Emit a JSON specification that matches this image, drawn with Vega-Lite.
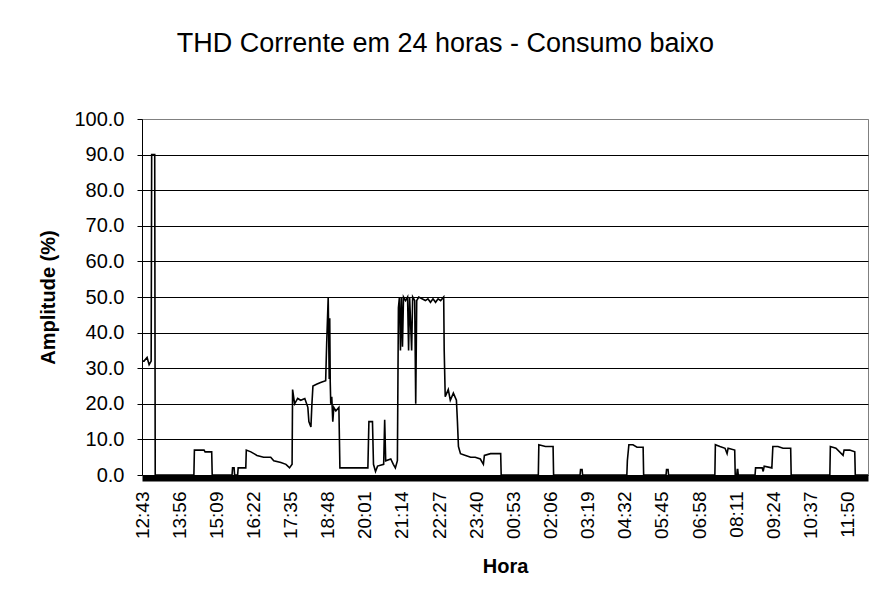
{
  "$schema": "https://vega.github.io/schema/vega-lite/v6.json",
  "width": 726,
  "height": 356,
  "autosize": {"type": "none"},
  "padding": {"left": 142, "top": 119, "right": 8, "bottom": 130},
  "background": "white",
  "config": {
    "font": "Liberation Sans",
    "view": {"stroke": "#808080", "strokeWidth": 1}
  },
  "title": {
    "text": "THD Corrente em 24 horas - Consumo baixo",
    "font": "Liberation Sans",
    "fontSize": 27,
    "fontWeight": "normal",
    "color": "#000",
    "anchor": "middle",
    "frame": "bounds",
    "dx": -8,
    "offset": 51
  },
  "data": {
    "values": [
      {"t": "2009-01-01T12:43:00", "v": 32},
      {"t": "2009-01-01T12:47:00", "v": 32},
      {"t": "2009-01-01T12:53:00", "v": 33},
      {"t": "2009-01-01T12:57:00", "v": 31},
      {"t": "2009-01-01T13:01:00", "v": 32},
      {"t": "2009-01-01T13:02:00", "v": 90},
      {"t": "2009-01-01T13:08:00", "v": 90},
      {"t": "2009-01-01T13:09:00", "v": 0},
      {"t": "2009-01-01T14:25:00", "v": 0},
      {"t": "2009-01-01T14:26:00", "v": 7},
      {"t": "2009-01-01T14:45:00", "v": 7},
      {"t": "2009-01-01T14:47:00", "v": 6.5},
      {"t": "2009-01-01T15:00:00", "v": 6.5},
      {"t": "2009-01-01T15:01:00", "v": 0},
      {"t": "2009-01-01T15:40:00", "v": 0},
      {"t": "2009-01-01T15:41:00", "v": 2},
      {"t": "2009-01-01T15:44:00", "v": 2},
      {"t": "2009-01-01T15:45:00", "v": 0},
      {"t": "2009-01-01T15:51:00", "v": 0},
      {"t": "2009-01-01T15:52:00", "v": 2},
      {"t": "2009-01-01T16:07:00", "v": 2},
      {"t": "2009-01-01T16:08:00", "v": 7},
      {"t": "2009-01-01T16:17:00", "v": 6.5},
      {"t": "2009-01-01T16:23:00", "v": 6},
      {"t": "2009-01-01T16:29:00", "v": 5.5},
      {"t": "2009-01-01T16:42:00", "v": 5},
      {"t": "2009-01-01T16:56:00", "v": 5},
      {"t": "2009-01-01T17:02:00", "v": 4},
      {"t": "2009-01-01T17:16:00", "v": 3.5},
      {"t": "2009-01-01T17:26:00", "v": 3},
      {"t": "2009-01-01T17:33:00", "v": 2},
      {"t": "2009-01-01T17:38:00", "v": 3},
      {"t": "2009-01-01T17:39:00", "v": 24},
      {"t": "2009-01-01T17:43:00", "v": 20},
      {"t": "2009-01-01T17:49:00", "v": 21.5},
      {"t": "2009-01-01T17:55:00", "v": 21},
      {"t": "2009-01-01T18:03:00", "v": 21.5},
      {"t": "2009-01-01T18:09:00", "v": 19},
      {"t": "2009-01-01T18:11:00", "v": 15},
      {"t": "2009-01-01T18:15:00", "v": 13.5},
      {"t": "2009-01-01T18:17:00", "v": 20},
      {"t": "2009-01-01T18:19:00", "v": 25},
      {"t": "2009-01-01T18:26:00", "v": 25.5},
      {"t": "2009-01-01T18:34:00", "v": 26},
      {"t": "2009-01-01T18:44:00", "v": 26.5},
      {"t": "2009-01-01T18:46:00", "v": 37},
      {"t": "2009-01-01T18:49:00", "v": 50},
      {"t": "2009-01-01T18:51:00", "v": 27},
      {"t": "2009-01-01T18:52:00", "v": 44},
      {"t": "2009-01-01T18:53:00", "v": 26},
      {"t": "2009-01-01T18:54:00", "v": 20},
      {"t": "2009-01-01T18:56:00", "v": 22},
      {"t": "2009-01-01T18:58:00", "v": 15},
      {"t": "2009-01-01T19:00:00", "v": 19},
      {"t": "2009-01-01T19:04:00", "v": 18},
      {"t": "2009-01-01T19:10:00", "v": 19},
      {"t": "2009-01-01T19:12:00", "v": 2},
      {"t": "2009-01-01T20:07:00", "v": 2},
      {"t": "2009-01-01T20:09:00", "v": 15},
      {"t": "2009-01-01T20:16:00", "v": 15},
      {"t": "2009-01-01T20:18:00", "v": 3},
      {"t": "2009-01-01T20:22:00", "v": 1},
      {"t": "2009-01-01T20:26:00", "v": 2.5},
      {"t": "2009-01-01T20:38:00", "v": 3},
      {"t": "2009-01-01T20:40:00", "v": 15.5},
      {"t": "2009-01-01T20:42:00", "v": 4},
      {"t": "2009-01-01T20:52:00", "v": 4.5},
      {"t": "2009-01-01T20:57:00", "v": 3},
      {"t": "2009-01-01T21:01:00", "v": 2},
      {"t": "2009-01-01T21:05:00", "v": 4},
      {"t": "2009-01-01T21:07:00", "v": 47},
      {"t": "2009-01-01T21:09:00", "v": 50},
      {"t": "2009-01-01T21:11:00", "v": 35},
      {"t": "2009-01-01T21:13:00", "v": 50},
      {"t": "2009-01-01T21:15:00", "v": 36},
      {"t": "2009-01-01T21:17:00", "v": 50},
      {"t": "2009-01-01T21:21:00", "v": 49},
      {"t": "2009-01-01T21:25:00", "v": 50},
      {"t": "2009-01-01T21:27:00", "v": 35},
      {"t": "2009-01-01T21:29:00", "v": 50},
      {"t": "2009-01-01T21:33:00", "v": 35},
      {"t": "2009-01-01T21:35:00", "v": 50},
      {"t": "2009-01-01T21:39:00", "v": 49},
      {"t": "2009-01-01T21:41:00", "v": 20},
      {"t": "2009-01-01T21:43:00", "v": 49},
      {"t": "2009-01-01T21:47:00", "v": 50},
      {"t": "2009-01-01T22:00:00", "v": 49},
      {"t": "2009-01-01T22:05:00", "v": 49.5},
      {"t": "2009-01-01T22:10:00", "v": 48.5},
      {"t": "2009-01-01T22:15:00", "v": 49.5},
      {"t": "2009-01-01T22:20:00", "v": 48.5},
      {"t": "2009-01-01T22:25:00", "v": 49.5},
      {"t": "2009-01-01T22:30:00", "v": 49},
      {"t": "2009-01-01T22:36:00", "v": 50},
      {"t": "2009-01-01T22:37:00", "v": 35},
      {"t": "2009-01-01T22:39:00", "v": 22},
      {"t": "2009-01-01T22:45:00", "v": 24},
      {"t": "2009-01-01T22:49:00", "v": 21},
      {"t": "2009-01-01T22:55:00", "v": 23},
      {"t": "2009-01-01T23:01:00", "v": 21},
      {"t": "2009-01-01T23:03:00", "v": 15},
      {"t": "2009-01-01T23:05:00", "v": 8},
      {"t": "2009-01-01T23:09:00", "v": 6},
      {"t": "2009-01-01T23:19:00", "v": 5.5},
      {"t": "2009-01-01T23:29:00", "v": 5},
      {"t": "2009-01-01T23:38:00", "v": 5},
      {"t": "2009-01-01T23:48:00", "v": 4.5},
      {"t": "2009-01-01T23:54:00", "v": 3},
      {"t": "2009-01-01T23:56:00", "v": 5.5},
      {"t": "2009-01-02T00:08:00", "v": 6},
      {"t": "2009-01-02T00:18:00", "v": 6},
      {"t": "2009-01-02T00:28:00", "v": 6},
      {"t": "2009-01-02T00:29:00", "v": 0},
      {"t": "2009-01-02T01:42:00", "v": 0},
      {"t": "2009-01-02T01:43:00", "v": 8.5},
      {"t": "2009-01-02T01:56:00", "v": 8},
      {"t": "2009-01-02T02:11:00", "v": 8},
      {"t": "2009-01-02T02:12:00", "v": 0},
      {"t": "2009-01-02T03:04:00", "v": 0},
      {"t": "2009-01-02T03:05:00", "v": 1.5},
      {"t": "2009-01-02T03:08:00", "v": 1.5},
      {"t": "2009-01-02T03:09:00", "v": 0},
      {"t": "2009-01-02T04:36:00", "v": 0},
      {"t": "2009-01-02T04:37:00", "v": 4},
      {"t": "2009-01-02T04:40:00", "v": 8.5},
      {"t": "2009-01-02T04:48:00", "v": 8.5},
      {"t": "2009-01-02T04:56:00", "v": 7.8},
      {"t": "2009-01-02T05:08:00", "v": 7.8},
      {"t": "2009-01-02T05:09:00", "v": 0},
      {"t": "2009-01-02T05:53:00", "v": 0},
      {"t": "2009-01-02T05:54:00", "v": 1.5},
      {"t": "2009-01-02T05:57:00", "v": 1.5},
      {"t": "2009-01-02T05:58:00", "v": 0},
      {"t": "2009-01-02T07:29:00", "v": 0},
      {"t": "2009-01-02T07:30:00", "v": 8.5},
      {"t": "2009-01-02T07:39:00", "v": 8},
      {"t": "2009-01-02T07:49:00", "v": 7.5},
      {"t": "2009-01-02T07:53:00", "v": 6},
      {"t": "2009-01-02T07:55:00", "v": 7.5},
      {"t": "2009-01-02T08:08:00", "v": 7},
      {"t": "2009-01-02T08:09:00", "v": 0},
      {"t": "2009-01-02T08:12:00", "v": 0},
      {"t": "2009-01-02T08:13:00", "v": 1.5},
      {"t": "2009-01-02T08:14:00", "v": 1.5},
      {"t": "2009-01-02T08:15:00", "v": 0},
      {"t": "2009-01-02T08:48:00", "v": 0},
      {"t": "2009-01-02T08:49:00", "v": 2},
      {"t": "2009-01-02T09:02:00", "v": 2},
      {"t": "2009-01-02T09:04:00", "v": 1},
      {"t": "2009-01-02T09:06:00", "v": 2.5},
      {"t": "2009-01-02T09:21:00", "v": 2},
      {"t": "2009-01-02T09:23:00", "v": 8},
      {"t": "2009-01-02T09:33:00", "v": 8},
      {"t": "2009-01-02T09:43:00", "v": 7.5},
      {"t": "2009-01-02T09:58:00", "v": 7.5},
      {"t": "2009-01-02T09:59:00", "v": 0},
      {"t": "2009-01-02T11:15:00", "v": 0},
      {"t": "2009-01-02T11:16:00", "v": 8},
      {"t": "2009-01-02T11:27:00", "v": 7.5},
      {"t": "2009-01-02T11:41:00", "v": 5.5},
      {"t": "2009-01-02T11:43:00", "v": 7},
      {"t": "2009-01-02T11:54:00", "v": 7},
      {"t": "2009-01-02T12:04:00", "v": 6.5},
      {"t": "2009-01-02T12:05:00", "v": 0},
      {"t": "2009-01-02T12:30:00", "v": 0}
    ]
  },
  "mark": {"type": "line", "color": "#000", "strokeWidth": 1.6, "interpolate": "linear", "clip": true},
  "encoding": {
    "x": {
      "field": "t",
      "type": "temporal",
      "scale": {
        "domain": [
          {"year": 2009, "month": 1, "date": 1, "hours": 12, "minutes": 43},
          {"year": 2009, "month": 1, "date": 2, "hours": 12, "minutes": 30}
        ]
      },
      "axis": {
        "title": "Hora",
        "titleFont": "Liberation Sans",
        "titleFontSize": 20,
        "titleFontWeight": "bold",
        "titleColor": "#000",
        "titlePadding": 18,
        "format": "%H:%M",
        "values": [
          {"year": 2009, "month": 1, "date": 1, "hours": 12, "minutes": 43},
          {"year": 2009, "month": 1, "date": 1, "hours": 13, "minutes": 56},
          {"year": 2009, "month": 1, "date": 1, "hours": 15, "minutes": 9},
          {"year": 2009, "month": 1, "date": 1, "hours": 16, "minutes": 22},
          {"year": 2009, "month": 1, "date": 1, "hours": 17, "minutes": 35},
          {"year": 2009, "month": 1, "date": 1, "hours": 18, "minutes": 48},
          {"year": 2009, "month": 1, "date": 1, "hours": 20, "minutes": 1},
          {"year": 2009, "month": 1, "date": 1, "hours": 21, "minutes": 14},
          {"year": 2009, "month": 1, "date": 1, "hours": 22, "minutes": 27},
          {"year": 2009, "month": 1, "date": 1, "hours": 23, "minutes": 40},
          {"year": 2009, "month": 1, "date": 2, "hours": 0, "minutes": 53},
          {"year": 2009, "month": 1, "date": 2, "hours": 2, "minutes": 6},
          {"year": 2009, "month": 1, "date": 2, "hours": 3, "minutes": 19},
          {"year": 2009, "month": 1, "date": 2, "hours": 4, "minutes": 32},
          {"year": 2009, "month": 1, "date": 2, "hours": 5, "minutes": 45},
          {"year": 2009, "month": 1, "date": 2, "hours": 6, "minutes": 58},
          {"year": 2009, "month": 1, "date": 2, "hours": 8, "minutes": 11},
          {"year": 2009, "month": 1, "date": 2, "hours": 9, "minutes": 24},
          {"year": 2009, "month": 1, "date": 2, "hours": 10, "minutes": 37},
          {"year": 2009, "month": 1, "date": 2, "hours": 11, "minutes": 50}
        ],
        "labelAngle": -90,
        "labelFont": "Liberation Sans",
        "labelFontSize": 19,
        "labelColor": "#000",
        "labelPadding": 13,
        "labelOverlap": false,
        "labelFlush": false,
        "grid": false,
        "ticks": false,
        "domainColor": "#000",
        "domainWidth": 6,
        "offset": 3
      }
    },
    "y": {
      "field": "v",
      "type": "quantitative",
      "scale": {"domain": [0, 100], "nice": false, "zero": true},
      "axis": {
        "title": "Amplitude (%)",
        "titleFont": "Liberation Sans",
        "titleFontSize": 20,
        "titleFontWeight": "bold",
        "titleColor": "#000",
        "titlePadding": 15,
        "values": [0, 10, 20, 30, 40, 50, 60, 70, 80, 90, 100],
        "format": ".1f",
        "labelFont": "Liberation Sans",
        "labelFontSize": 20,
        "labelColor": "#000",
        "labelPadding": 13,
        "tickSize": 5,
        "tickColor": "#000",
        "domainColor": "#000",
        "grid": true,
        "gridColor": {"condition": {"test": "datum.value == 100", "value": "#808080"}, "value": "#000"},
        "gridOpacity": 1,
        "gridWidth": 1.2
      }
    }
  }
}
